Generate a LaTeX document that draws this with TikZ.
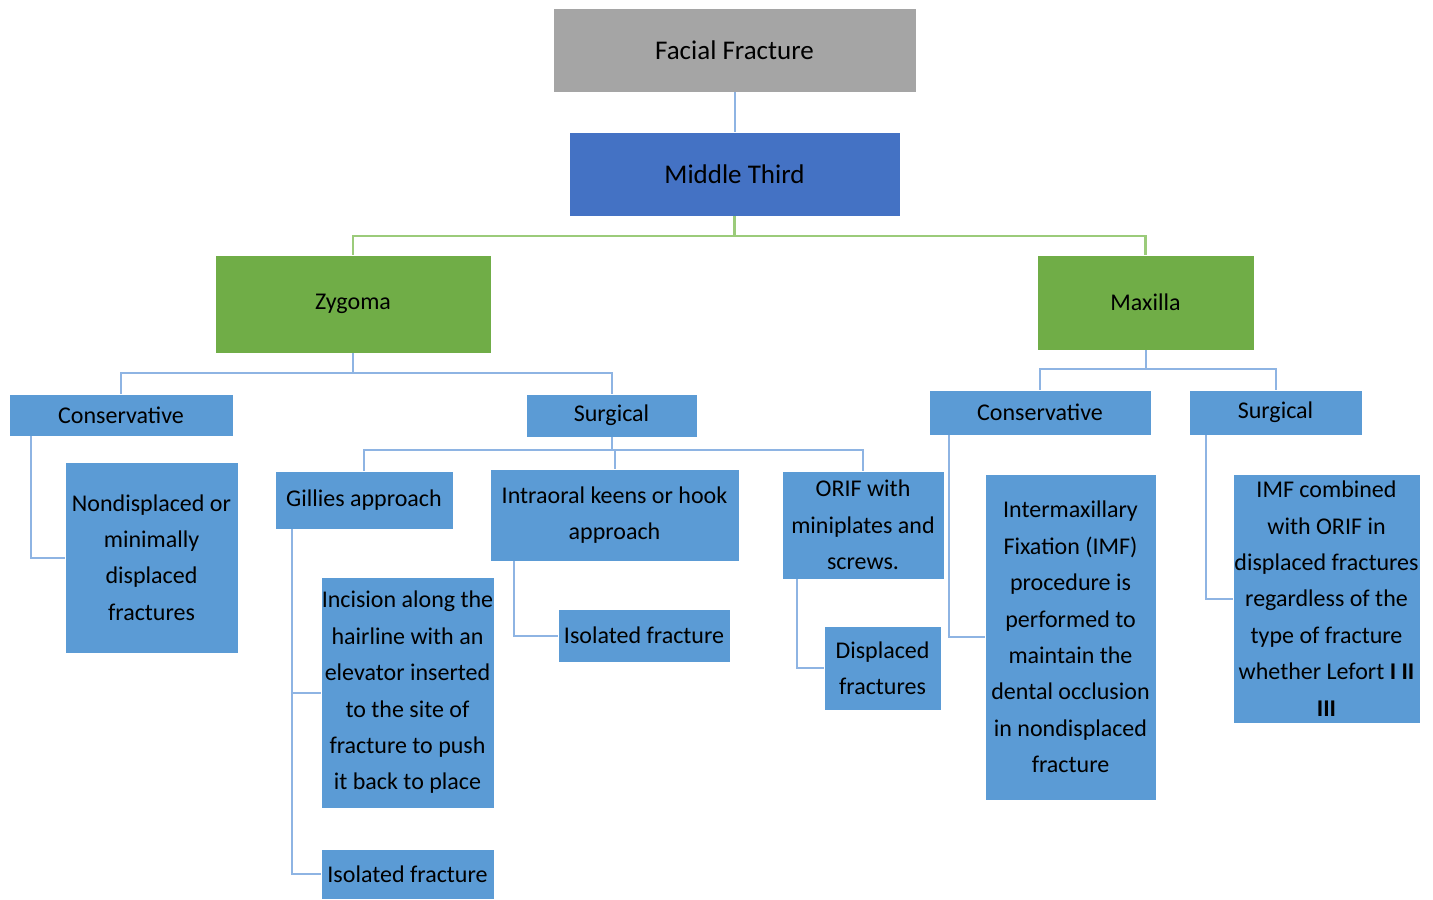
\documentclass[tikz,border=0pt]{standalone}
\usepackage{fontspec}
\setmainfont{Carlito}
\definecolor{cgray}{HTML}{A5A5A5}
\definecolor{cdblue}{HTML}{4472C4}
\definecolor{cgreen}{HTML}{70AD47}
\definecolor{cblue}{HTML}{5B9BD5}
\definecolor{lblue}{HTML}{8EB4E3}
\definecolor{lgreen}{HTML}{9BCB7A}
\newcommand\bx[7]{\node[#6, minimum width={(#4-#2)*0.5pt}, minimum height={(#5-#3)*0.5pt}] (#1) at ({(#2+#4)/2},{(#3+#5)/2}) {#7};}
\tikzset{
  base/.style={rectangle, inner sep=0pt, outer sep=0pt, draw=white, line width=0.4pt, align=center, text=black},
  topbox/.style={base, font=\fontsize{13.5}{20}\selectfont},
  gbox/.style={base, fill=cgray},
  dbbox/.style={base, fill=cdblue},
  grbox/.style={base, fill=cgreen, font=\fontsize{12}{18.5}\selectfont},
  bbox/.style={base, fill=cblue, font=\fontsize{12}{18.2}\selectfont},
  bline/.style={draw=lblue, line width=1pt},
  gline/.style={draw=lgreen, line width=1.2pt},
}
\begin{document}
\begin{tikzpicture}[x=0.5pt, y=-0.5pt]
\useasboundingbox (0,0) rectangle (1433,899);
% top
\bx{ff}{553}{8}{916}{92}{gbox,topbox}{Facial Fracture}
\bx{mt}{569}{132}{900}{216}{dbbox,topbox}{Middle Third}
\bx{zyg}{215}{255}{491}{353}{grbox}{Zygoma}
\bx{max}{1037}{255}{1254}{350}{grbox}{Maxilla}
% zygoma branch
\bx{cl}{9}{394}{233}{436}{bbox}{Conservative}
\bx{sl}{526}{394}{697}{437}{bbox}{Surgical}
\bx{nd}{65}{462}{238}{653}{bbox}{Nondisplaced or\\minimally\\displaced\\fractures}
\bx{gil}{275}{471}{453}{529}{bbox}{Gillies approach}
\bx{intra}{490}{469}{739}{561}{bbox}{Intraoral keens or hook\\approach}
\bx{orif}{782}{471}{944}{579}{bbox}{ORIF with\\miniplates and\\screws.}
\bx{inc}{321}{577}{494}{808}{bbox}{Incision along the\\hairline with an\\elevator inserted\\to the site of\\fracture to push\\it back to place}
\bx{iso1}{321}{849}{494}{899}{bbox}{Isolated fracture}
\bx{iso2}{558}{609}{730}{662}{bbox}{Isolated fracture}
\bx{disp}{824}{626}{941}{710}{bbox}{Displaced\\fractures}
% maxilla branch
\bx{cr}{929}{390}{1151}{435}{bbox}{Conservative}
\bx{sr}{1189}{390}{1362}{435}{bbox}{Surgical}
\bx{imf}{985}{474}{1156}{800}{bbox}{Intermaxillary\\Fixation (IMF)\\procedure is\\performed to\\maintain the\\dental occlusion\\in nondisplaced\\fracture}
\bx{imfc}{1233}{474}{1420}{723}{bbox}{IMF combined\\with ORIF in\\displaced fractures\\regardless of the\\type of fracture\\whether Lefort \textbf{I II}\\\textbf{III}}
% junction coordinates
\coordinate (j1) at (734.5,236);
\coordinate (j2) at (353,373);
\coordinate (j3) at (611.5,450);
\coordinate (j4) at (1145.5,369);
% connectors
\draw[bline] (ff.south) -- (mt.north);
\draw[gline] (mt.south) -- (j1) -| (zyg.north);
\draw[gline] (j1) -| (max.north);
\draw[bline] (zyg.south) -- (j2) -| (cl.north);
\draw[bline] (j2) -| (sl.north);
\draw[bline] (sl.south) -- (j3) -| (gil.north);
\draw[bline] (j3) -| (intra.north);
\draw[bline] (j3) -| (orif.north);
\draw[bline] (max.south) -- (j4) -| (cr.north);
\draw[bline] (j4) -| (sr.north);
\draw[bline] ([xshift=11pt]cl.south west) |- (nd.west);
\draw[bline] ([xshift=8.5pt]gil.south west) |- (inc.west);
\draw[bline] ([xshift=8.5pt]gil.south west) |- (iso1.west);
\draw[bline] ([xshift=12pt]intra.south west) |- (iso2.west);
\draw[bline] ([xshift=7.5pt]orif.south west) |- (disp.west);
\draw[bline] ([xshift=10pt]cr.south west) |- (imf.west);
\draw[bline] ([xshift=8.5pt]sr.south west) |- (imfc.west);
\end{tikzpicture}
\end{document}
